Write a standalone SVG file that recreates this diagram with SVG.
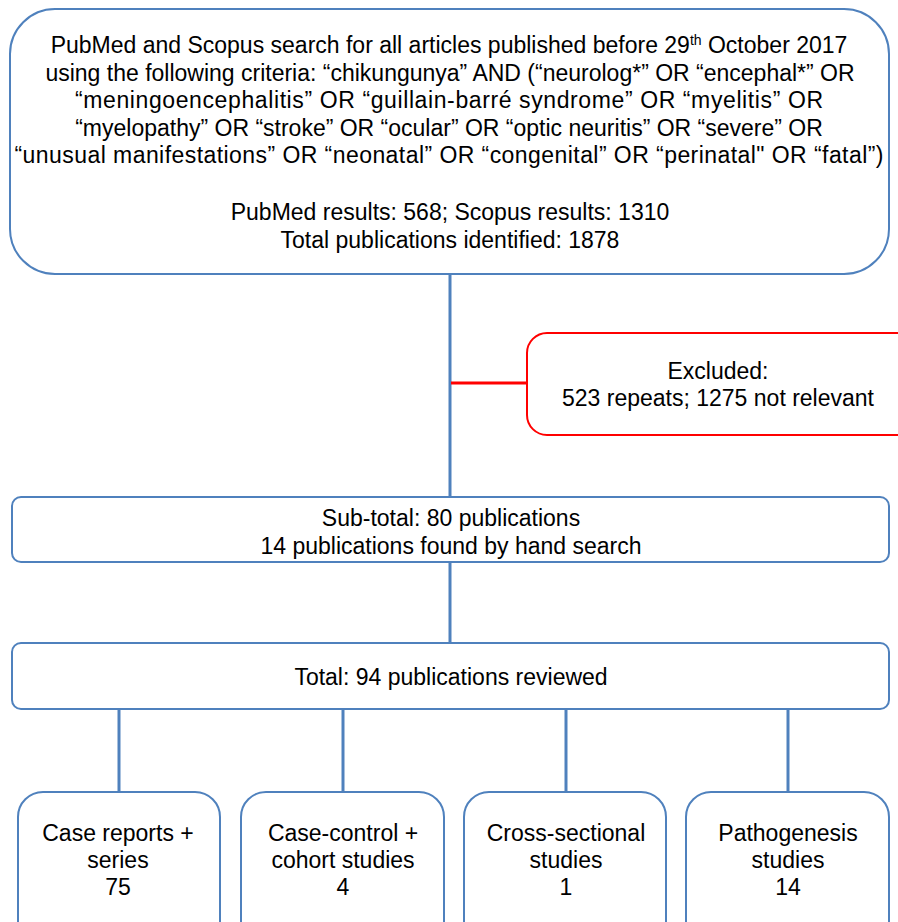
<svg xmlns="http://www.w3.org/2000/svg" width="898" height="922" viewBox="0 0 898 922">
<style>
.box{fill:#fff;stroke:#4F81BD;stroke-width:2}
.red{fill:#fff;stroke:#FF0000;stroke-width:2}
text{font-family:"Liberation Sans",Arial,sans-serif;font-size:23px;fill:#000;text-anchor:middle}
.c{stroke:#4F81BD;stroke-width:3;fill:none}
.cr{stroke:#FF0000;stroke-width:3;fill:none}
</style>
<rect width="898" height="922" fill="#fff"/>
<g id="connectors">
<line class="c" x1="450" y1="274" x2="450" y2="497"/>
<line class="cr" x1="451" y1="383" x2="528" y2="383"/>
<line class="c" x1="450" y1="562" x2="450" y2="643"/>
<line class="c" x1="119" y1="709" x2="119" y2="792"/>
<line class="c" x1="343" y1="709" x2="343" y2="792"/>
<line class="c" x1="566" y1="709" x2="566" y2="792"/>
<line class="c" x1="788" y1="709" x2="788" y2="792"/>
</g>
<g id="search">
<rect class="box" x="10" y="9" width="879" height="265" rx="45"/>
<text x="449" y="53">PubMed and Scopus search for all articles published before 29<tspan font-size="14" dy="-8">th</tspan><tspan dy="8"> October 2017</tspan></text>
<text x="450" y="81">using the following criteria: “chikungunya” AND (“neurolog*” OR “encephal*” OR</text>
<text x="449" y="108" textLength="748" lengthAdjust="spacing">“meningoencephalitis” OR “guillain-barré syndrome” OR “myelitis” OR</text>
<text x="449" y="136">“myelopathy” OR “stroke” OR “ocular” OR “optic neuritis” OR “severe” OR</text>
<text x="449" y="163" textLength="869" lengthAdjust="spacing">“unusual manifestations” OR “neonatal” OR “congenital” OR “perinatal" OR “fatal”)</text>
<text x="450" y="220">PubMed results: 568; Scopus results: 1310</text>
<text x="450" y="248">Total publications identified: 1878</text>
</g>
<g id="excluded">
<rect class="red" x="527" y="333" width="400" height="102" rx="20"/>
<text x="718" y="379">Excluded:</text>
<text x="718" y="406">523 repeats; 1275 not relevant</text>
</g>
<g id="subtotal">
<rect class="box" x="12" y="497" width="877" height="65" rx="9"/>
<text x="451" y="526">Sub-total: 80 publications</text>
<text x="451" y="554">14 publications found by hand search</text>
</g>
<g id="total">
<rect class="box" x="12" y="643" width="877" height="66" rx="9"/>
<text x="451" y="685">Total: 94 publications reviewed</text>
</g>
<g id="case-reports">
<rect class="box" x="18" y="792" width="202" height="160" rx="25"/>
<text x="118" y="841">Case reports +</text>
<text x="118" y="868">series</text>
<text x="118" y="895">75</text>
</g>
<g id="case-control">
<rect class="box" x="241" y="792" width="203" height="160" rx="25"/>
<text x="343" y="841">Case-control +</text>
<text x="343" y="868">cohort studies</text>
<text x="343" y="895">4</text>
</g>
<g id="cross-sectional">
<rect class="box" x="464" y="792" width="202" height="160" rx="25"/>
<text x="566" y="841">Cross-sectional</text>
<text x="566" y="868">studies</text>
<text x="566" y="895">1</text>
</g>
<g id="pathogenesis">
<rect class="box" x="686" y="792" width="203" height="160" rx="25"/>
<text x="788" y="841">Pathogenesis</text>
<text x="788" y="868">studies</text>
<text x="788" y="895">14</text>
</g>
</svg>
